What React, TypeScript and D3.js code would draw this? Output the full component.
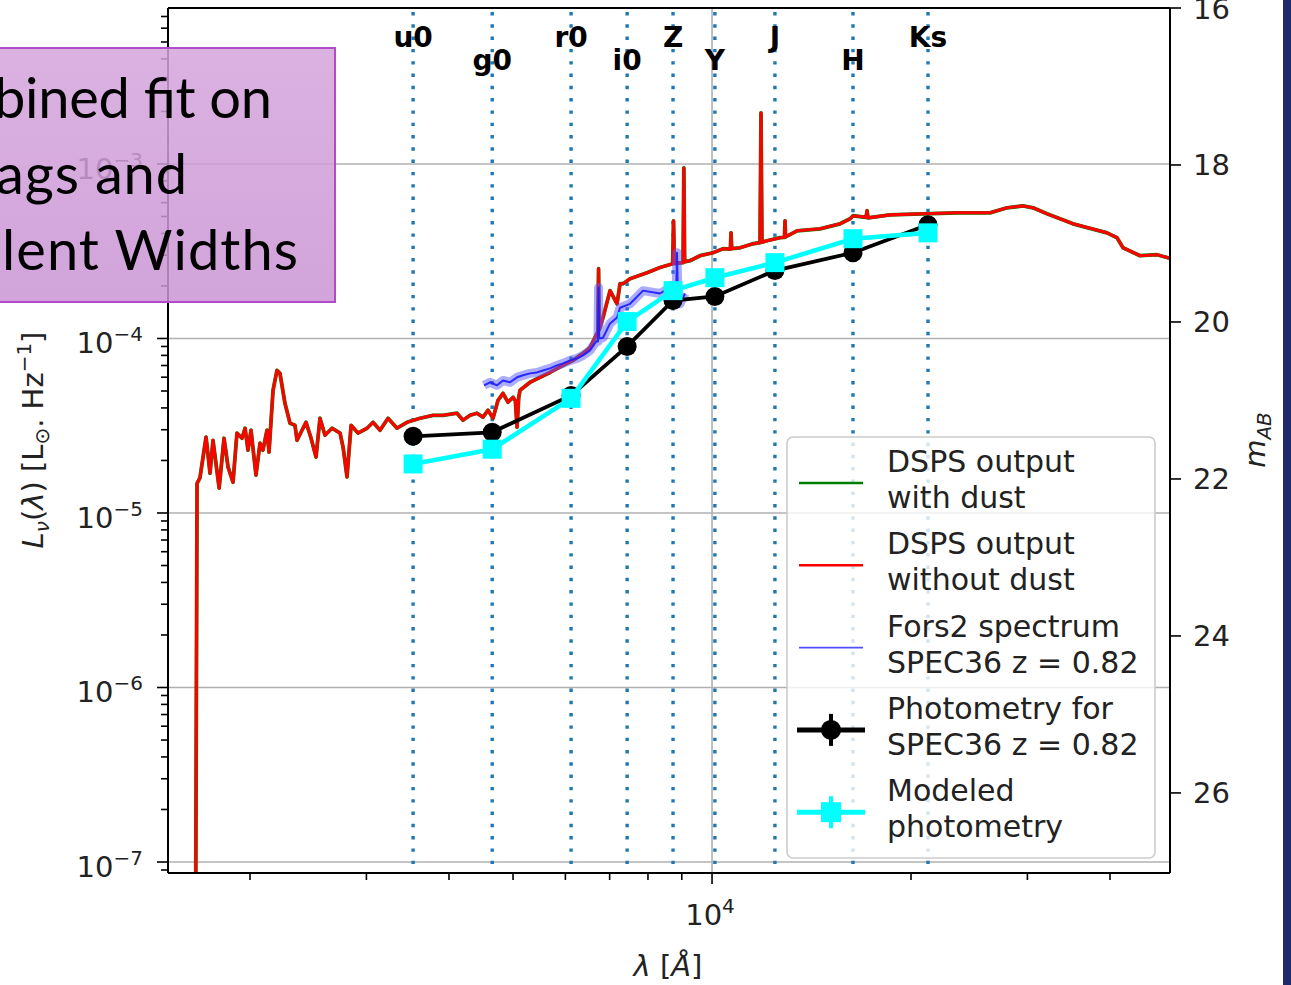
import React from "react";
import * as d3 from "d3";

const W = 1291;
const H = 985;

// ---- data ----
const filterNames = ["u0", "g0", "r0", "i0", "Z", "Y", "J", "H", "Ks"];
const filterWavelengths = [3530, 4650, 6120, 7440, 8730, 10100, 12450, 16340, 21220];
const photometryObserved = [2.75e-5, 2.9e-5, 4.72e-5, 9.0e-5, 1.65e-4, 1.74e-4, 2.45e-4, 3.1e-4, 4.48e-4];
const photometryModeled = [1.91e-5, 2.32e-5, 4.54e-5, 1.25e-4, 1.88e-4, 2.23e-4, 2.72e-4, 3.73e-4, 4.03e-4];

const dspsWavelength = [
  1655, 1663, 1680, 1716, 1740, 1758, 1796, 1827, 1853, 1885, 1911, 1945, 1966, 1986, 2007, 2042, 2071, 2092,
  2122, 2137, 2167, 2197, 2220, 2259, 2299, 2339, 2356, 2397, 2431, 2474, 2517, 2552, 2597, 2661, 2737, 2766,
  2804, 2844, 2913, 3007, 3070, 3146, 3235, 3338, 3456, 3616, 3784, 3918, 4113, 4200, 4304, 4410, 4503, 4583,
  4663, 4745, 4828, 4913, 5000, 5040, 5070, 5100, 5123, 5305, 5493, 5687, 5951, 6162, 6380, 6538, 6699, 6720,
  6735, 6750, 6841, 7010, 7183, 7258, 7334, 7516, 7974, 8343, 8720, 8745, 8770, 9040, 9065, 9090, 9262, 9591,
  10035, 10391, 10660, 10684, 10710, 11024, 11535, 11820, 11860, 11900, 12112, 12673, 12870, 12896, 12920,
  13446, 14568, 15619, 16172, 16343, 17100, 17160, 17220, 18590, 20855, 23478, 26337, 27944, 29547, 30594,
  32123, 35167, 39589, 40991, 41857, 44411, 47122, 48962, 52000,
];
const dspsLnu = [
  5e-8, 1.48e-5, 1.59e-5, 2.72e-5, 1.69e-5, 2.61e-5, 1.39e-5, 2.68e-5, 1.83e-5, 1.5e-5, 2.87e-5, 2.68e-5,
  3.06e-5, 2.29e-5, 2.98e-5, 1.65e-5, 2.51e-5, 2.29e-5, 2.98e-5, 2.23e-5, 5.05e-5, 6.56e-5, 6.31e-5, 4.25e-5,
  3.27e-5, 3.18e-5, 2.61e-5, 2.98e-5, 3.31e-5, 2.68e-5, 2.09e-5, 3.49e-5, 2.79e-5, 3.06e-5, 2.87e-5, 2.38e-5,
  1.61e-5, 3.18e-5, 2.87e-5, 3.06e-5, 3.31e-5, 2.98e-5, 3.49e-5, 3.06e-5, 3.31e-5, 3.49e-5, 3.63e-5, 3.63e-5,
  3.73e-5, 3.4e-5, 3.63e-5, 3.73e-5, 3.54e-5, 3.88e-5, 3.49e-5, 4.42e-5, 4.85e-5, 4.31e-5, 4.6e-5, 4.4e-5,
  3.1e-5, 4.6e-5, 5.05e-5, 5.61e-5, 5.99e-5, 6.39e-5, 7.01e-5, 7.49e-5, 8.21e-5, 8.88e-5, 1.07e-4, 1.05e-4,
  2.51e-4, 1.12e-4, 1.32e-4, 1.88e-4, 1.58e-4, 2.06e-4, 2.06e-4, 2.2e-4, 2.38e-4, 2.55e-4, 2.68e-4, 4.72e-4,
  2.69e-4, 2.72e-4, 9.49e-4, 2.75e-4, 2.79e-4, 2.98e-4, 3.1e-4, 3.27e-4, 3.25e-4, 4.03e-4, 3.27e-4, 3.31e-4,
  3.49e-4, 3.54e-4, 1.96e-3, 3.56e-4, 3.63e-4, 3.78e-4, 3.8e-4, 4.72e-4, 3.82e-4, 4.14e-4, 4.25e-4, 4.54e-4,
  4.85e-4, 5.05e-4, 4.95e-4, 5.4e-4, 4.91e-4, 5.11e-4, 5.18e-4, 5.25e-4, 5.25e-4, 5.61e-4, 5.75e-4, 5.61e-4,
  5.18e-4, 4.54e-4, 4.03e-4, 3.78e-4, 3.31e-4, 2.98e-4, 3.02e-4, 2.9e-4, 2.88e-4,
];

const forsWavelength = [
  4519, 4615, 4729, 4828, 4948, 5070, 5177, 5305, 5436, 5550, 5687, 5828, 5951, 6098, 6248, 6380, 6538, 6699,
  6720, 6735, 6750, 6841, 7010, 7183, 7258, 7516, 7863, 8343, 8730, 8830, 8852, 8875, 8945, 9103,
];
const forsLnu = [
  5.39e-5, 5.61e-5, 5.39e-5, 5.75e-5, 5.61e-5, 5.99e-5, 6.15e-5, 6.31e-5, 6.39e-5, 6.56e-5, 6.74e-5, 7.01e-5,
  7.2e-5, 7.49e-5, 7.69e-5, 8.0e-5, 8.54e-5, 9.74e-5, 9.6e-5, 1.96e-4, 1.0e-4, 1.01e-4, 1.22e-4, 1.32e-4,
  1.5e-4, 1.58e-4, 1.88e-4, 1.81e-4, 2.01e-4, 2.0e-4, 3.1e-4, 1.9e-4, 1.58e-4, 1.81e-4,
];

const lnuMajorTicks = [1e-7, 1e-6, 1e-5, 1e-4, 1e-3];
const lnuTickExponents = ["\u22127", "\u22126", "\u22125", "\u22124", "\u22123"];
const magTicks = [16, 18, 20, 22, 24, 26];
const lambdaMajorTicks = [10000];
const lambdaMinorTicks = [2000, 3000, 4000, 5000, 6000, 7000, 8000, 9000, 20000, 30000, 40000];

const legendLabels = [
  ["DSPS output", "with dust"],
  ["DSPS output", "without dust"],
  ["Fors2 spectrum", "SPEC36 z = 0.82"],
  ["Photometry for", "SPEC36 z = 0.82"],
  ["Modeled", "photometry"],
];

const slideLines = ["bined fit on", "ags and", "lent Widths"];

// ---- layout ----
const L = 168;
const R = 1170;
const T = 8;
const B = 873;
const FONT = "DejaVu Sans";

export default function App() {
  const x = d3.scaleLog().domain([1503, 49300]).range([L, R]);
  const y = d3.scaleLog().domain([8.65e-8, 7.83e-3]).range([B, T]);
  const mag = d3.scaleLinear().domain([16, 27.02]).range([T, B]);

  const dsps: [number, number][] = dspsWavelength.map((w, i) => [w, dspsLnu[i]]);
  const fors: [number, number][] = forsWavelength.map((w, i) => [w, forsLnu[i]]);
  const obs: [number, number][] = filterWavelengths.map((w, i) => [w, photometryObserved[i]]);
  const mod: [number, number][] = filterWavelengths.map((w, i) => [w, photometryModeled[i]]);

  const line = d3
    .line<[number, number]>()
    .x((d) => x(d[0]))
    .y((d) => y(d[1]));

  const minorY: number[] = [];
  const [y0, y1] = y.domain();
  for (let e = -8; e <= -3; e++) {
    for (let k = 2; k <= 9; k++) {
      const v = k * Math.pow(10, e);
      if (v > y0 && v < y1) minorY.push(v);
    }
  }

  const legendX = 787;
  const legendY = 437;

  return (
    <div style={{ position: "absolute", left: 0, top: 0, width: W, height: H }}>
      <svg width={W} height={H} viewBox={`0 0 ${W} ${H}`} style={{ display: "block" }}>
        <defs>
          <clipPath id="plotClip">
            <rect x={L} y={T} width={R - L} height={B - T} />
          </clipPath>
          <linearGradient id="boxGrad" x1="0" y1="0" x2="0" y2="1">
            <stop offset="0" stopColor="rgb(212,164,220)" />
            <stop offset="1" stopColor="rgb(202,148,212)" />
          </linearGradient>
        </defs>
        <rect x={0} y={0} width={W} height={H} fill="#ffffff" />

        {/* grid */}
        <g stroke="#b0b0b0" strokeWidth={1.6}>
          {lnuMajorTicks.map((v) => (
            <line key={v} x1={L} x2={R} y1={y(v)} y2={y(v)} />
          ))}
          {lambdaMajorTicks.map((v) => (
            <line key={v} x1={x(v)} x2={x(v)} y1={T} y2={B} />
          ))}
        </g>

        {/* filter lines */}
        <g stroke="#1f77b4" strokeWidth={3.4} strokeDasharray="3.4 8.9">
          {filterWavelengths.map((w) => (
            <line key={w} x1={x(w)} x2={x(w)} y1={T + 4} y2={B} />
          ))}
        </g>

        {/* spectra */}
        <g clipPath="url(#plotClip)" fill="none" strokeLinejoin="round">
          <path d={line(dsps) || ""} stroke="#008000" strokeWidth={3.8} />
          <path d={line(dsps) || ""} stroke="#ff0000" strokeWidth={3.1} />
          <path d={line(fors) || ""} stroke="#5a5aff" strokeOpacity={0.5} strokeWidth={9} />
          <path d={line(fors) || ""} stroke="#1a1aff" strokeOpacity={0.9} strokeWidth={2} />
        </g>

        {/* photometry */}
        <path d={line(obs) || ""} fill="none" stroke="#000" strokeWidth={3.8} />
        {obs.map((d, i) => (
          <circle key={i} cx={x(d[0])} cy={y(d[1])} r={9.5} fill="#000" />
        ))}
        <path d={line(mod) || ""} fill="none" stroke="#00ffff" strokeWidth={4.6} />
        {mod.map((d, i) => (
          <rect key={i} x={x(d[0]) - 9.5} y={y(d[1]) - 9.5} width={19} height={19} fill="#00ffff" />
        ))}

        {/* filter labels */}
        <g fontFamily={FONT} fontWeight="bold" fontSize={28} textAnchor="middle" fill="#000">
          {filterNames.map((n, i) => (
            <text key={n} x={x(filterWavelengths[i])} y={i % 2 === 0 ? 47 : 70}>
              {n}
            </text>
          ))}
        </g>

        {/* legend */}
        <rect
          x={legendX}
          y={legendY}
          width={368}
          height={421}
          rx={6}
          fill="#ffffff"
          fillOpacity={0.8}
          stroke="#cccccc"
          strokeWidth={1.6}
        />
        <g fontFamily={FONT} fontSize={30} fill="#222">
          {legendLabels.map((lab, i) => {
            const hy = 483 + i * 82.3;
            const by = 472 + i * 82.3;
            return (
              <g key={i}>
                {i === 0 && <line x1={799} x2={863} y1={hy} y2={hy} stroke="#008000" strokeWidth={2.5} />}
                {i === 1 && <line x1={799} x2={863} y1={hy} y2={hy} stroke="#ff0000" strokeWidth={2.5} />}
                {i === 2 && <line x1={799} x2={863} y1={hy} y2={hy} stroke="#5050ff" strokeWidth={1.6} />}
                {i === 3 && (
                  <g>
                    <line x1={797} x2={865} y1={hy} y2={hy} stroke="#000" strokeWidth={5} />
                    <line x1={831} x2={831} y1={hy - 16} y2={hy + 16} stroke="#000" strokeWidth={4} />
                    <circle cx={831} cy={hy} r={10} fill="#000" />
                  </g>
                )}
                {i === 4 && (
                  <g>
                    <line x1={797} x2={865} y1={hy} y2={hy} stroke="#00ffff" strokeWidth={5} />
                    <line x1={831} x2={831} y1={hy - 16} y2={hy + 16} stroke="#00ffff" strokeWidth={4} />
                    <rect x={821} y={hy - 10} width={20} height={20} fill="#00ffff" />
                  </g>
                )}
                <text x={887} y={by}>
                  {lab[0]}
                </text>
                <text x={887} y={by + 36}>
                  {lab[1]}
                </text>
              </g>
            );
          })}
        </g>

        {/* axes spines */}
        <g stroke="#000" strokeWidth={2} fill="none">
          <line x1={L} x2={L} y1={T} y2={B} />
          <line x1={R} x2={R} y1={T} y2={B} />
          <line x1={L} x2={R} y1={T} y2={T} />
          <line x1={L} x2={R} y1={B} y2={B} />
        </g>

        {/* ticks */}
        <g stroke="#000" strokeWidth={1.6}>
          {lnuMajorTicks.map((v) => (
            <line key={v} x1={L - 11} x2={L} y1={y(v)} y2={y(v)} />
          ))}
          {minorY.map((v) => (
            <line key={v} x1={L - 7} x2={L} y1={y(v)} y2={y(v)} />
          ))}
          {lambdaMajorTicks.map((v) => (
            <line key={v} x1={x(v)} x2={x(v)} y1={B} y2={B + 11} />
          ))}
          {lambdaMinorTicks.map((v) => (
            <line key={v} x1={x(v)} x2={x(v)} y1={B} y2={B + 7} />
          ))}
          {magTicks.map((v) => (
            <line key={v} x1={R} x2={R + 11} y1={mag(v)} y2={mag(v)} />
          ))}
        </g>
        <g fontFamily={FONT} fill="#222">
          {lnuMajorTicks.map((v, i) => (
            <text key={v} x={L - 25} y={y(v) + 15} textAnchor="end" fontSize={29}>
              10
              <tspan fontSize={20} dy={-12}>
                {lnuTickExponents[i]}
              </tspan>
            </text>
          ))}
          {lambdaMajorTicks.map((v) => (
            <text key={v} x={x(v) - 2} y={925} textAnchor="middle" fontSize={29}>
              10
              <tspan fontSize={20} dy={-12}>
                4
              </tspan>
            </text>
          ))}
          {magTicks.map((v) => (
            <text key={v} x={R + 23} y={mag(v) + 10.5} fontSize={29}>
              {v}
            </text>
          ))}
        </g>

        {/* axis labels */}
        <text x={668} y={976} textAnchor="middle" fontFamily={FONT} fontSize={29} fill="#222">
          <tspan fontStyle="italic">λ</tspan> [<tspan fontStyle="italic">Å</tspan>]
        </text>
        <text
          transform="translate(43,440) rotate(-90)"
          textAnchor="middle"
          fontFamily={FONT}
          fontSize={29}
          fill="#222"
        >
          <tspan fontStyle="italic">L</tspan>
          <tspan fontStyle="italic" fontSize={20} dy={6}>
            ν
          </tspan>
          <tspan dy={-6}>(</tspan>
          <tspan fontStyle="italic">λ</tspan>
          <tspan>) [L</tspan>
          <tspan fontSize={20} dy={6}>
            ⊙
          </tspan>
          <tspan dy={-6}>. Hz</tspan>
          <tspan fontSize={20} dy={-12}>
            −1
          </tspan>
          <tspan dy={12}>]</tspan>
        </text>
        <text
          transform="translate(1265,440) rotate(-90)"
          textAnchor="middle"
          fontFamily={FONT}
          fontSize={29}
          fill="#222"
        >
          <tspan fontStyle="italic">m</tspan>
          <tspan fontStyle="italic" fontSize={20} dy={6}>
            AB
          </tspan>
        </text>

        {/* slide overlay box */}
        <rect
          x={-10}
          y={48}
          width={345}
          height={254}
          fill="url(#boxGrad)"
          fillOpacity={0.85}
          stroke="#b04cc8"
          strokeWidth={2}
        />
        <g fontFamily="Lato, 'Open Sans', sans-serif" fontSize={56} fill="#000">
          <text x={-6} y={118} textLength={278} lengthAdjust="spacing">
            {slideLines[0]}
          </text>
          <text x={-4} y={194} textLength={191} lengthAdjust="spacing">
            {slideLines[1]}
          </text>
          <text x={2} y={270} textLength={296} lengthAdjust="spacing">
            {slideLines[2]}
          </text>
        </g>

        {/* slide background strip */}
        <rect x={1283} y={0} width={8} height={H} fill="#1f2a6b" />
      </svg>
    </div>
  );
}
